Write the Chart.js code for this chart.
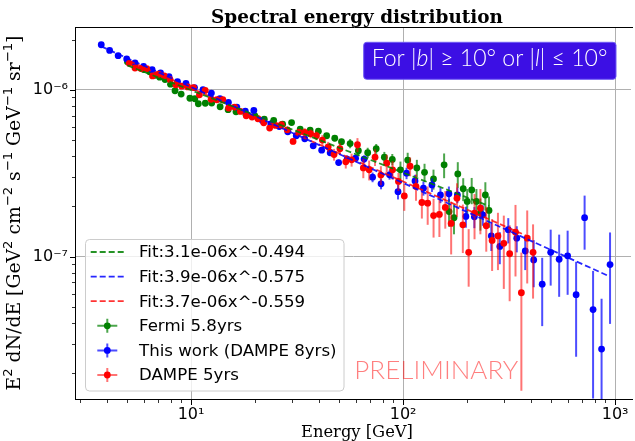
<!DOCTYPE html>
<html>
<head>
<meta charset="utf-8">
<script src="https://cdn.jsdelivr.net/npm/chart.js@4.4.1/dist/chart.umd.min.js"></script>
<style>
html,body{margin:0;padding:0;background:#ffffff;overflow:hidden;}
canvas{display:block;}
</style>
</head>
<body>
<canvas id="c" width="635" height="441"></canvas>
<script>
// ------------------------- DATA -------------------------
const titleText = 'Spectral energy distribution';
const xLabelText = 'Energy [GeV]';
const seriesLabels = ['Fermi 5.8yrs', 'This work (DAMPE 8yrs)', 'DAMPE 5yrs'];
const fitLabels = ['Fit:3.1e-06x^-0.494', 'Fit:3.9e-06x^-0.575', 'Fit:3.7e-06x^-0.559'];
const xMajorTicks = [10, 100, 1000];
const xTickLabels = ['10¹', '10²', '10³'];
const yMajorTicks = [1e-7, 1e-6];
const yTickLabels = ['10⁻⁷', '10⁻⁶'];

// Fermi 5.8yrs
const fermiE = [5.01,5.43,5.98,6.38,6.78,7.11,7.54,8.00,8.40,8.98,9.87,10.42,10.82,11.67,12.51,13.71,14.95,16.29,18.15,20.0,22.14,24.53,27.03,29.79,32.71,36.43,39.85,43.58,47.60,51.22,56.25,61.52,68.07,74.68,81.57,88.92,97.14,105.1,116.1,126.2,139.1,156.1,164.7,173.8,181.1,192.1,200.6,210.6,221.7,231.5,244.3,254.2];
const fermiF = [1.47e-6,1.43e-6,1.32e-6,1.28e-6,1.22e-6,1.19e-6,1.15e-6,1.08e-6,9.86e-7,9.42e-7,8.89e-7,8.83e-7,8.24e-7,8.30e-7,8.32e-7,7.91e-7,7.59e-7,7.38e-7,7.13e-7,6.98e-7,6.67e-7,6.54e-7,6.21e-7,6.36e-7,5.81e-7,5.73e-7,5.64e-7,5.30e-7,5.12e-7,4.88e-7,4.76e-7,4.31e-7,4.19e-7,4.43e-7,3.94e-7,3.82e-7,3.31e-7,3.79e-7,3.40e-7,3.20e-7,2.92e-7,3.55e-7,1.86e-7,1.71e-7,3.13e-7,2.55e-7,2.14e-7,2.51e-7,2.14e-7,1.83e-7,2.34e-7,1.89e-7];
const fermiErr = [1.5e-8,1.5e-8,1.5e-8,1.5e-8,1.5e-8,1.5e-8,1.5e-8,1.5e-8,1.5e-8,1.5e-8,1.2e-8,1.2e-8,1.2e-8,1.2e-8,1.2e-8,1.2e-8,1.2e-8,1.2e-8,1.2e-8,1.2e-8,1.5e-8,1.5e-8,1.5e-8,1.5e-8,1.5e-8,2.0e-8,2.0e-8,2.0e-8,2.0e-8,2.0e-8,3.0e-8,3.0e-8,3.0e-8,3.0e-8,3.0e-8,3.0e-8,4.0e-8,4.0e-8,4.0e-8,4.0e-8,4.0e-8,6.0e-8,3.5e-8,3.5e-8,5.5e-8,4.0e-8,4.0e-8,4.5e-8,4.0e-8,4.0e-8,4.5e-8,4.0e-8];

// This work (DAMPE 8yrs)
const dampe8E = [3.77,4.13,4.53,4.97,5.44,5.97,6.55,7.18,7.87,8.63,9.46,10.38,11.38,12.47,13.68,15.00,16.44,18.03,19.77,21.68,23.77,26.06,28.58,31.33,34.36,37.67,41.30,45.29,49.66,54.45,59.70,65.46,71.78,78.70,86.30,94.62,103.8,113.8,124.7,136.8,150.0,164.4,180.3,197.7,216.8,237.7,260.6,285.8,313.3,343.6,376.7,413.0,452.9,496.6,544.5,597.0,654.6,717.8,787.0,863.0,946.2];
const dampe8F = [1.86e-6,1.72e-6,1.60e-6,1.53e-6,1.45e-6,1.38e-6,1.32e-6,1.26e-6,1.20e-6,1.12e-6,1.09e-6,1.03e-6,1.00e-6,9.55e-7,8.83e-7,8.39e-7,7.87e-7,7.45e-7,7.51e-7,6.54e-7,6.25e-7,6.02e-7,5.60e-7,5.30e-7,5.08e-7,4.61e-7,4.34e-7,4.19e-7,3.66e-7,3.84e-7,3.89e-7,3.84e-7,2.99e-7,2.73e-7,3.09e-7,2.45e-7,3.16e-7,2.84e-7,2.57e-7,2.69e-7,2.34e-7,2.38e-7,2.34e-7,1.74e-7,1.73e-7,1.78e-7,1.33e-7,1.15e-7,1.45e-7,1.29e-7,1.08e-7,9.55e-8,6.83e-8,1.06e-7,9.64e-8,1.01e-7,5.91e-8,1.71e-7,4.81e-8,2.79e-8,8.95e-8];
const dampe8Err = [1.5e-8,1.5e-8,1.5e-8,1.5e-8,1.5e-8,1.5e-8,1.5e-8,1.5e-8,1.5e-8,1.5e-8,1.5e-8,1.2e-8,1.2e-8,1.2e-8,1.2e-8,1.2e-8,1.2e-8,1.2e-8,1.2e-8,1.2e-8,1.2e-8,1.5e-8,1.5e-8,1.5e-8,1.5e-8,1.5e-8,1.5e-8,1.5e-8,1.5e-8,2.0e-8,2.0e-8,2.0e-8,2.0e-8,2.0e-8,2.0e-8,2.5e-8,2.5e-8,2.5e-8,2.5e-8,2.5e-8,2.5e-8,2.5e-8,2.5e-8,2.5e-8,2.5e-8,2.5e-8,2.5e-8,2.5e-8,2.5e-8,2.3e-8,2.5e-8,3.0e-8,3.0e-8,3.9e-8,3.9e-8,4.2e-8,3.4e-8,6.1e-8,3.4e-8,2.8e-8,5.0e-8];

// DAMPE 5yrs
const dampe5E = [5.11,5.44,5.80,6.18,6.58,7.01,7.47,7.96,8.48,9.04,9.64,10.27,10.95,11.66,12.43,13.24,14.12,15.04,16.03,17.08,18.20,19.39,20.67,22.02,23.47,25.01,26.66,28.41,30.27,32.26,34.37,36.63,39.03,41.60,44.33,47.24,50.34,53.65,57.17,60.92,64.92,69.18,73.72,78.56,83.71,89.21,95.06,101.3,107.9,115.0,122.6,130.6,139.2,148.3,158.1,168.5,179.5,191.3,203.8,217.2,231.5,246.7,262.9,280.1,298.5,318.1,338.9,361.2,384.9,410.1];
const dampe5F = [1.44e-6,1.35e-6,1.34e-6,1.34e-6,1.21e-6,1.24e-6,1.21e-6,1.15e-6,1.07e-6,1.05e-6,1.04e-6,1.03e-6,9.33e-7,9.90e-7,8.77e-7,8.71e-7,8.71e-7,7.77e-7,7.87e-7,7.41e-7,6.98e-7,6.86e-7,6.70e-7,6.34e-7,5.89e-7,6.11e-7,6.17e-7,5.75e-7,4.90e-7,5.55e-7,5.55e-7,5.45e-7,5.30e-7,4.99e-7,4.55e-7,4.09e-7,4.43e-7,3.70e-7,3.80e-7,4.68e-7,3.40e-7,3.31e-7,3.94e-7,3.08e-7,3.63e-7,3.31e-7,2.82e-7,2.31e-7,3.48e-7,2.63e-7,2.11e-7,2.09e-7,1.76e-7,1.79e-7,1.97e-7,1.58e-7,2.24e-7,1.55e-7,1.06e-7,1.82e-7,1.95e-7,1.53e-7,1.25e-7,1.33e-7,1.20e-7,1.04e-7,1.40e-7,6.07e-8,1.29e-7,1.06e-7];
const dampe5Err = [1.5e-8,1.5e-8,1.5e-8,1.5e-8,1.5e-8,1.5e-8,1.5e-8,1.5e-8,1.5e-8,1.5e-8,1.5e-8,1.5e-8,1.5e-8,1.5e-8,1.5e-8,1.5e-8,1.5e-8,1.5e-8,1.5e-8,1.5e-8,2.0e-8,2.0e-8,2.0e-8,2.0e-8,2.0e-8,2.0e-8,2.0e-8,2.0e-8,2.0e-8,2.0e-8,3.3e-8,3.3e-8,3.2e-8,3.5e-8,3.2e-8,3.3e-8,3.5e-8,3.3e-8,3.4e-8,4.5e-8,4.5e-8,4.5e-8,4.5e-8,4.0e-8,4.5e-8,4.2e-8,3.5e-8,4.3e-8,4.5e-8,4.7e-8,4.2e-8,5.4e-8,4.6e-8,4.8e-8,5.0e-8,5.5e-8,5.1e-8,5.0e-8,4.0e-8,5.5e-8,5.9e-8,4.6e-8,4.3e-8,5.0e-8,5.6e-8,5.0e-8,6.4e-8,4.5e-8,6.0e-8,5.0e-8];

// Fit lines (end points read on the picture)
const fitFermiE = [5.01, 254.2];
const fitFermiF = [1.398e-6, 2.010e-7];
const fitDampe8E = [3.77, 915];
const fitDampe8F = [1.819e-6, 7.73e-8];
const fitDampe5E = [5.11, 410.1];
const fitDampe5F = [1.487e-6, 1.281e-7];

// ------------------------- STYLE -------------------------
const X_MIN = 2.866, X_MAX = 1188, Y_MIN = 1.401e-8, Y_MAX = 2.377e-6;
const GREEN = '#008000', BLUE = '#0000ff', RED = '#ff0000';
const ERR_COL = ['rgba(0,128,0,0.7)', 'rgba(0,0,255,0.7)', 'rgba(255,0,0,0.55)'];
const FIT_COL = ['rgba(0,128,0,0.85)', 'rgba(0,0,255,0.85)', 'rgba(255,0,0,0.8)'];
const DASH = [6, 3];

function pts(E, F) { return E.map((e, i) => ({x: e, y: F[i]})); }
function logTicks(min, max) {
  const out = [];
  for (let e = Math.floor(Math.log10(min)); e <= Math.ceil(Math.log10(max)); e++) {
    for (let m = 1; m < 10; m++) {
      const v = m * Math.pow(10, e);
      if (v >= min * 0.9999 && v <= max * 1.0001) out.push({value: v, major: m === 1});
    }
  }
  return out;
}
function majorIndex(v, majors) {
  for (let i = 0; i < majors.length; i++) if (Math.abs(v / majors[i] - 1) < 1e-6) return i;
  return -1;
}

const datasets = [
  {label: fitLabels[0], data: pts(fitFermiE, fitFermiF), showLine: true, borderColor: FIT_COL[0], borderWidth: 1.8, borderDash: DASH, pointRadius: 0, fill: false, order: 0},
  {label: fitLabels[1], data: pts(fitDampe8E, fitDampe8F), showLine: true, borderColor: FIT_COL[1], borderWidth: 1.8, borderDash: DASH, pointRadius: 0, fill: false, order: 0},
  {label: fitLabels[2], data: pts(fitDampe5E, fitDampe5F), showLine: true, borderColor: FIT_COL[2], borderWidth: 1.8, borderDash: DASH, pointRadius: 0, fill: false, order: 0},
  {label: seriesLabels[0], data: pts(fermiE, fermiF), errs: fermiErr, errColor: ERR_COL[0], pointBackgroundColor: GREEN, pointBorderColor: GREEN, pointBorderWidth: 0, pointRadius: 3.4, order: 3},
  {label: seriesLabels[1], data: pts(dampe8E, dampe8F), errs: dampe8Err, errColor: ERR_COL[1], pointBackgroundColor: BLUE, pointBorderColor: BLUE, pointBorderWidth: 0, pointRadius: 3.4, order: 2},
  {label: seriesLabels[2], data: pts(dampe5E, dampe5F), errs: dampe5Err, errColor: ERR_COL[2], pointBackgroundColor: RED, pointBorderColor: RED, pointBorderWidth: 0, pointRadius: 3.4, order: 1}
];

// error bars, drawn just under each series' markers
const errorBars = {
  id: 'errorBars',
  beforeDatasetDraw(chart, args) {
    const ds = chart.data.datasets[args.index];
    if (!ds.errs) return;
    const {ctx, chartArea: a, scales: {x, y}} = chart;
    ctx.save();
    ctx.beginPath(); ctx.rect(a.left, a.top, a.right - a.left, a.bottom - a.top); ctx.clip();
    ctx.strokeStyle = ds.errColor; ctx.lineWidth = 2;
    ds.data.forEach((p, i) => {
      const e = ds.errs[i];
      const px = x.getPixelForValue(p.x);
      const yt = y.getPixelForValue(p.y + e);
      const lo = p.y - e;
      const yb = lo > 0 ? y.getPixelForValue(lo) : a.bottom + 20;
      ctx.beginPath(); ctx.moveTo(px, yt); ctx.lineTo(px, yb); ctx.stroke();
    });
    ctx.restore();
  }
};

function measureSegs(ctx, segs) { let w = 0; for (const s of segs) { ctx.font = s.font; w += ctx.measureText(s.t).width; } return w; }
function drawSegs(ctx, segs, x, y) { let cx = x; for (const s of segs) { ctx.font = s.font; ctx.fillText(s.t, cx, y + (s.dy || 0)); cx += ctx.measureText(s.t).width; } }
function fitSize(ctx, make, target, s0) { return s0 * target / measureSegs(ctx, make(s0)); }

function yLabelSegs(s) {
  const n = s + 'px "DejaVu Serif"', p = (0.7 * s) + 'px "DejaVu Sans"', d = -0.4 * s;
  return [{t: 'E', font: n}, {t: '2', font: p, dy: d}, {t: ' dN/dE [GeV', font: n}, {t: '2', font: p, dy: d},
          {t: ' cm', font: n}, {t: '−2', font: p, dy: d}, {t: ' s', font: n}, {t: '−1', font: p, dy: d},
          {t: ' GeV', font: n}, {t: '−1', font: p, dy: d}, {t: ' sr', font: n}, {t: '−1', font: p, dy: d}, {t: ']', font: n}];
}
function boxSegs(s) {
  const n = '300 ' + s + 'px Lato, "Open Sans", sans-serif', it = 'italic 300 ' + s + 'px Lato, "Open Sans", sans-serif';
  return [{t: 'For |', font: n}, {t: 'b', font: it}, {t: '| ≥ 10° or |', font: n}, {t: 'l', font: it}, {t: '| ≤ 10°', font: n}];
}

function roundRect(ctx, x, y, w, h, r) {
  ctx.beginPath();
  ctx.moveTo(x + r, y); ctx.lineTo(x + w - r, y); ctx.quadraticCurveTo(x + w, y, x + w, y + r);
  ctx.lineTo(x + w, y + h - r); ctx.quadraticCurveTo(x + w, y + h, x + w - r, y + h);
  ctx.lineTo(x + r, y + h); ctx.quadraticCurveTo(x, y + h, x, y + h - r);
  ctx.lineTo(x, y + r); ctx.quadraticCurveTo(x, y, x + r, y); ctx.closePath();
}

const decor = {
  id: 'decor',
  afterDraw(chart) {
    const {ctx, chartArea: a, scales: {x, y}} = chart;
    ctx.save();
    // spines
    ctx.strokeStyle = '#000'; ctx.lineWidth = 1;
    ctx.beginPath();
    ctx.moveTo(a.left - 0.5, a.top + 0.5); ctx.lineTo(a.right + 2, a.top + 0.5);
    ctx.moveTo(a.left - 0.5, a.top); ctx.lineTo(a.left - 0.5, a.bottom + 1);
    ctx.moveTo(a.left - 1, a.bottom + 0.5); ctx.lineTo(a.right + 2, a.bottom + 0.5);
    ctx.stroke();
    // tick marks
    x.ticks.forEach(t => {
      const px = Math.round(x.getPixelForValue(t.value)) + 0.5;
      const len = majorIndex(t.value, xMajorTicks) >= 0 ? 5 : 3;
      ctx.lineWidth = len === 5 ? 1 : 0.8;
      ctx.beginPath(); ctx.moveTo(px, a.bottom + 1); ctx.lineTo(px, a.bottom + 1 + len); ctx.stroke();
    });
    y.ticks.forEach(t => {
      const py = Math.round(y.getPixelForValue(t.value)) + 0.5;
      const len = majorIndex(t.value, yMajorTicks) >= 0 ? 5 : 3;
      ctx.lineWidth = len === 5 ? 1 : 0.8;
      ctx.beginPath(); ctx.moveTo(a.left - 1, py); ctx.lineTo(a.left - 1 - len, py); ctx.stroke();
    });

    // title
    ctx.fillStyle = '#000'; ctx.textAlign = 'center'; ctx.textBaseline = 'alphabetic';
    ctx.font = 'bold 18px "DejaVu Serif"';
    let s = 18 * 292 / ctx.measureText(titleText).width;
    ctx.font = 'bold ' + s + 'px "DejaVu Serif"';
    ctx.fillText(titleText, 357, 23);
    // x label
    ctx.font = '16px "DejaVu Serif"';
    s = 16 * 112 / ctx.measureText(xLabelText).width;
    ctx.font = s + 'px "DejaVu Serif"';
    ctx.fillText(xLabelText, 357, 437);
    // y label
    ctx.textAlign = 'left';
    const ys = fitSize(ctx, yLabelSegs, 355, 16);
    const segs = yLabelSegs(ys);
    const wy = measureSegs(ctx, segs);
    ctx.save();
    ctx.translate(20, 213); ctx.rotate(-Math.PI / 2);
    drawSegs(ctx, segs, -wy / 2, 0);
    ctx.restore();

    // legend
    const L = {x: 85.5, y: 239.5, w: 258.5, h: 151.5};
    roundRect(ctx, L.x, L.y, L.w, L.h, 4);
    ctx.fillStyle = 'rgba(255,255,255,0.8)'; ctx.fill();
    ctx.strokeStyle = '#cccccc'; ctx.lineWidth = 1; ctx.stroke();
    const rows = [252, 276.6, 301.2, 325.8, 350.4, 375];
    const lfs = 16.5 * 197.7 / (function () { ctx.font = '16.5px "DejaVu Sans"'; return ctx.measureText(seriesLabels[1]).width; })();
    ctx.font = lfs + 'px "DejaVu Sans"';
    ctx.textBaseline = 'middle'; ctx.textAlign = 'left';
    const dots = [GREEN, BLUE, RED];
    for (let i = 0; i < 3; i++) {
      const ry = rows[i];
      ctx.save();
      ctx.strokeStyle = FIT_COL[i]; ctx.lineWidth = 1.8; ctx.setLineDash(DASH);
      ctx.beginPath(); ctx.moveTo(90.7, ry); ctx.lineTo(124, ry); ctx.stroke();
      ctx.restore();
      ctx.fillStyle = '#000';
      ctx.fillText(fitLabels[i], 139, ry + 1);
    }
    for (let i = 0; i < 3; i++) {
      const ry = rows[3 + i];
      ctx.strokeStyle = ERR_COL[i]; ctx.lineWidth = 2;
      ctx.beginPath(); ctx.moveTo(107.3, ry - 7); ctx.lineTo(107.3, ry + 7);
      ctx.moveTo(97.3, ry); ctx.lineTo(117.3, ry); ctx.stroke();
      ctx.fillStyle = dots[i];
      ctx.beginPath(); ctx.arc(107.3, ry, 3.4, 0, Math.PI * 2); ctx.fill();
      ctx.fillStyle = '#000';
      ctx.fillText(seriesLabels[i], 139, ry + 1);
    }

    // annotation box
    roundRect(ctx, 363.7, 42.3, 252.3, 37, 3);
    ctx.fillStyle = '#3c0fe4'; ctx.fill();
    ctx.strokeStyle = 'rgba(110,90,245,1)'; ctx.lineWidth = 1; ctx.stroke();
    const bs = fitSize(ctx, boxSegs, 236, 22);
    ctx.fillStyle = '#ffffff'; ctx.textBaseline = 'alphabetic';
    drawSegs(ctx, boxSegs(bs), 371.7, 66);

    // PRELIMINARY
    ctx.font = '300 26px Lato, "Open Sans", sans-serif';
    const ps = 26 * 164 / ctx.measureText('PRELIMINARY').width;
    ctx.font = '300 ' + ps + 'px Lato, "Open Sans", sans-serif';
    ctx.fillStyle = 'rgba(255,0,0,0.5)';
    ctx.fillText('PRELIMINARY', 354.3, 379.3);
    ctx.restore();
  }
};

const xTicksAll = logTicks(X_MIN, X_MAX);
const yTicksAll = logTicks(Y_MIN, Y_MAX);

new Chart(document.getElementById('c'), {
  type: 'scatter',
  data: {datasets},
  options: {
    responsive: false, animation: false, devicePixelRatio: 1,
    layout: {padding: {left: 0, right: 0, top: 27, bottom: 0}},
    plugins: {legend: {display: false}, tooltip: {enabled: false}, title: {display: false}},
    elements: {line: {tension: 0}},
    scales: {
      x: {
        type: 'logarithmic', position: 'bottom', min: X_MIN, max: X_MAX,
        afterBuildTicks(s) { s.ticks = xTicksAll.map(t => ({value: t.value})); },
        afterFit(s) { s.height = 42; },
        ticks: {autoSkip: false, maxRotation: 0, minRotation: 0, padding: 6, color: '#000',
          font: {family: 'DejaVu Sans', size: 16},
          callback(v) { const i = majorIndex(v, xMajorTicks); return i >= 0 ? xTickLabels[i] : ''; }},
        grid: {drawTicks: false, lineWidth: 1,
          color(c) { return c.tick && majorIndex(c.tick.value, xMajorTicks) >= 0 ? '#b0b0b0' : 'rgba(0,0,0,0)'; }},
        border: {display: false}
      },
      y: {
        type: 'logarithmic', position: 'left', min: Y_MIN, max: Y_MAX,
        afterBuildTicks(s) { s.ticks = yTicksAll.map(t => ({value: t.value})); },
        afterFit(s) { s.width = 76; },
        ticks: {autoSkip: false, padding: 8, color: '#000',
          font: {family: 'DejaVu Sans', size: 16},
          callback(v) { const i = majorIndex(v, yMajorTicks); return i >= 0 ? yTickLabels[i] : ''; }},
        grid: {drawTicks: false, lineWidth: 1,
          color(c) { return c.tick && majorIndex(c.tick.value, yMajorTicks) >= 0 ? '#b0b0b0' : 'rgba(0,0,0,0)'; }},
        border: {display: false}
      }
    }
  },
  plugins: [errorBars, decor]
});
</script>
</body>
</html>
